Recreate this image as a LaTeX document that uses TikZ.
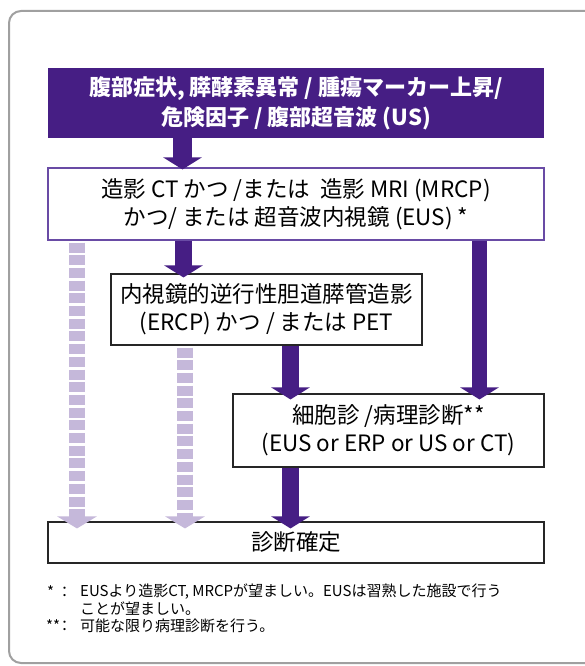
\documentclass[tikz,border=0pt]{standalone}
\usepackage{fontspec}
\usetikzlibrary{arrows.meta}
\newfontfamily\jp{Noto Sans CJK JP}
\definecolor{dpurp}{RGB}{70,30,132}
\definecolor{lpurp}{RGB}{197,184,218}
\definecolor{bpurp}{RGB}{105,75,165}
\definecolor{frame}{RGB}{160,160,160}
\tikzset{
  boxtxt/.style={font=\jp\fontsize{22.5}{28}\selectfont, align=center, inner sep=0pt},
  stepbox/.style={draw=black!85, line width=1.1pt, boxtxt},
  bigarrow/.style={draw=dpurp, line width=17pt, -{Triangle[width=38pt,length=12pt]}},
  ghostarrow/.style={draw=lpurp, line width=16pt, dash pattern=on 10pt off 2.7pt, dash phase=-2pt, -{Triangle[width=39pt,length=12pt]}},
  note/.style={font=\jp\fontsize{15}{16}\selectfont, inner sep=0pt, anchor=west}
}
\begin{document}
\begin{tikzpicture}[x=1pt,y=-1pt]
\useasboundingbox (0,0) rectangle (585,666);
\fill[white] (0,0) rectangle (585,666);
\draw[frame, line width=2pt, rounded corners=12pt] (9,11) rectangle (600,663);

\node[fill=dpurp, text=white, minimum width=496pt, minimum height=70pt, inner sep=0pt,
      font=\jp\bfseries\fontsize{22}{30}\selectfont, align=center] (top) at (296,103)
  {腹部症状, 膵酵素異常 / 腫瘍マーカー上昇/\\危険因子 / 腹部超音波 (US)};

\node[draw=bpurp, line width=1.1pt, boxtxt, minimum width=496pt, minimum height=72pt] (img) at (296,204)
  {造影 CT かつ /または \ 造影 MRI (MRCP)\\かつ/ または 超音波内視鏡 (EUS) *};

\node[stepbox, minimum width=311pt, minimum height=71pt] (ercp) at (266.5,309.5)
  {内視鏡的逆行性胆道膵管造影\\(ERCP) かつ / または PET};

\node[stepbox, minimum width=311pt, minimum height=73pt] (cyto) at (388.5,430.5)
  {細胞診 /病理診断**\\(EUS or ERP or US or CT)};

\node[stepbox, minimum width=496pt, minimum height=41pt] (dx) at (296,542.5)
  {診断確定};

\coordinate (c1) at (182.5,0);
\coordinate (c2) at (183.5,0);
\coordinate (c3) at (290.5,0);
\coordinate (c4) at (479.5,0);
\coordinate (g1) at (77,0);
\coordinate (g2) at (185,0);

% ghost (light) arrows
\draw[ghostarrow] (img.south -| g1) -- ([yshift=-7pt]dx.north -| g1);
\draw[ghostarrow] (ercp.south -| g2) -- ([yshift=-7pt]dx.north -| g2);

% solid arrows
\draw[bigarrow, line width=19pt] (top.south -| c1) -- ([yshift=-2pt]img.north -| c1);
\draw[bigarrow] (img.south -| c2) -- ([yshift=-4pt]ercp.north -| c2);
\draw[bigarrow] (ercp.south -| c3) -- ([yshift=-6pt]cyto.north -| c3);
\draw[bigarrow, line width=15pt] (img.south -| c4) -- ([yshift=-6pt]cyto.north -| c4);
\draw[bigarrow] (cyto.south -| c3) -- ([yshift=-7pt]dx.north -| c3);

% footnotes
\node[note] (s1) at (47,592) {*};
\node[note] (k1) at (57,592) {：};
\node[note] (n1) at (80,592) {EUSより造影CT, MRCPが望ましい。EUSは習熟した施設で行う};
\node[note] (n2) at (80,609) {ことが望ましい。};
\node[note] (s2) at (46,626) {**};
\node[note] (k2) at (57,626) {：};
\node[note] (n3) at (80,626) {可能な限り病理診断を行う。};
\end{tikzpicture}
\end{document}
